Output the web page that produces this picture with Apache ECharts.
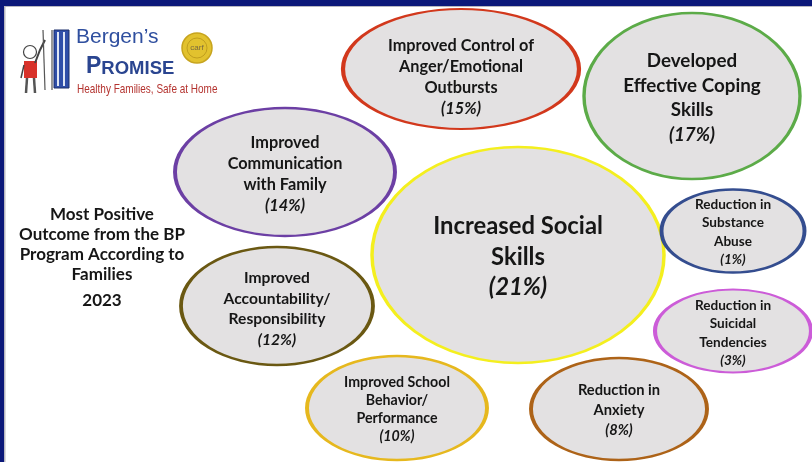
<!DOCTYPE html>
<html>
<head>
<meta charset="utf-8">
<script src="https://cdn.jsdelivr.net/npm/echarts@6/dist/echarts.min.js"></script>
<style>
  html, body { margin: 0; padding: 0; background: #fff; }
  #chart { width: 812px; height: 462px; }
</style>
</head>
<body>
<div id="chart"></div>
<script>
  // outcomes and their share of families (%)
  var outcomes = [
    'Improved Control of\nAnger/Emotional\nOutbursts',
    'Developed\nEffective Coping\nSkills',
    'Improved\nCommunication\nwith Family',
    'Increased Social\nSkills',
    'Reduction in\nSubstance\nAbuse',
    'Reduction in\nSuicidal\nTendencies',
    'Improved\nAccountability/\nResponsibility',
    'Improved School\nBehavior/\nPerformance',
    'Reduction in\nAnxiety'
  ];
  var shares = [15, 17, 14, 21, 1, 3, 12, 10, 8];
  // bubble layout (x, y on the slide)
  var posX = [461, 692, 285, 518, 733, 733, 277, 397, 619];
  var posY = [69, 96, 172, 255, 231, 331, 306, 408, 409];

  // styles
  var sizeW = [236, 216, 220, 292, 143, 156, 192, 180, 176];
  var sizeH = [120, 166, 128, 216, 83, 83, 118, 104, 102];
  var rims = ['#d2381c', '#5cab48', '#6c3fa4', '#f4ef1e', '#344d8f', '#cc5cd8', '#6a5812', '#e6b81e', '#ad6318'];
  var fonts = [16.3, 18.8, 16.3, 23.8, 13.6, 13.6, 15.6, 14.2, 14.7];
  var lineH = [21, 24.5, 21, 30.5, 18.5, 18.5, 20.5, 18, 20];
  var dy = [8, 2, 2, 2, 1, 2, 3, 1, 1];

  var myChart = echarts.init(document.getElementById('chart'));
  var face = 'Lato, "Open Sans", sans-serif';
  var ink = '#161616';

  var data = outcomes.map(function (name, i) {
    var fs = fonts[i];
    return {
      value: [posX[i], posY[i]],
      symbolSize: [sizeW[i], sizeH[i]],
      itemStyle: { color: '#e3e1e2', borderColor: rims[i], borderWidth: 3, opacity: 1 },
      label: {
        show: true,
        position: 'inside',
        offset: [0, dy[i]],
        align: 'center',
        color: ink,
        textBorderWidth: 0,
        formatter: name.split('\n').map(function (l) { return '{t|' + l + '}'; }).join('\n') +
          '\n{p|(' + shares[i] + '%)}',
        rich: {
          t: { fontSize: fs, lineHeight: lineH[i], fontWeight: 'bold', color: ink, fontFamily: face, align: 'center', textBorderWidth: 0 },
          p: { fontSize: fs, lineHeight: lineH[i], fontWeight: 'bold', fontStyle: 'italic', color: ink, fontFamily: face, align: 'center', textBorderWidth: 0 }
        }
      }
    };
  });

  var option = {
    backgroundColor: '#ffffff',
    animation: false,
    grid: { left: 0, right: 0, top: 0, bottom: 0 },
    xAxis: { type: 'value', min: 0, max: 812, show: false },
    yAxis: { type: 'value', min: 0, max: 462, inverse: true, show: false },
    series: [{
      type: 'scatter',
      symbol: 'circle',
      itemStyle: { opacity: 1 },
      emphasis: { disabled: true },
      data: data,
      z: 5
    }],
    graphic: [
      // slide frame
      { type: 'rect', shape: { x: 0, y: 0, width: 812, height: 6 }, style: { fill: '#0b1879' }, z: 10 },
      { type: 'rect', shape: { x: 0, y: 0, width: 4, height: 462 }, style: { fill: '#0b1879' }, z: 10 },
      { type: 'rect', shape: { x: 4, y: 6, width: 808, height: 1 }, style: { fill: '#b8b8c0' }, z: 10 },
      { type: 'rect', shape: { x: 4, y: 6, width: 1.5, height: 456 }, style: { fill: '#b8b8c0' }, z: 10 },

      // title
      {
        type: 'text', x: 102, y: 205, z: 10,
        style: {
          text: 'Most Positive\nOutcome from the BP\nProgram According to\nFamilies',
          align: 'center', verticalAlign: 'top',
          font: 'bold 17px ' + face, fill: ink, lineHeight: 20
        }
      },
      {
        type: 'text', x: 102, y: 292, z: 10,
        style: { text: '2023', align: 'center', verticalAlign: 'top', font: 'bold 17px ' + face, fill: ink }
      },

      // logo: child holding a parent's hand
      {
        type: 'group', x: 18, y: 28, z: 10,
        children: [
          { type: 'circle', shape: { cx: 12, cy: 24, r: 6.5 }, style: { fill: '#fff', stroke: '#444', lineWidth: 1.2 } },
          { type: 'rect', shape: { x: 6, y: 33, width: 13, height: 17 }, style: { fill: '#d8322a' } },
          { type: 'polyline', shape: { points: [[17, 35], [22, 22], [27, 12]] }, style: { stroke: '#444', lineWidth: 2, fill: null } },
          { type: 'polyline', shape: { points: [[6, 37], [3, 50]] }, style: { stroke: '#444', lineWidth: 1.5, fill: null } },
          { type: 'polyline', shape: { points: [[9, 50], [8, 65]] }, style: { stroke: '#555', lineWidth: 2.5, fill: null } },
          { type: 'polyline', shape: { points: [[16, 50], [17, 65]] }, style: { stroke: '#555', lineWidth: 2.5, fill: null } },
          { type: 'polyline', shape: { points: [[25, 2], [27, 62]] }, style: { stroke: '#555', lineWidth: 1.2, fill: null } },
          { type: 'polyline', shape: { points: [[34, 2], [34, 62]] }, style: { stroke: '#555', lineWidth: 1.2, fill: null } },
          { type: 'rect', shape: { x: 36, y: 2, width: 15, height: 58 }, style: { fill: '#2f4ea8', stroke: '#1d2e6a', lineWidth: 1 } },
          { type: 'rect', shape: { x: 39, y: 4, width: 2, height: 54 }, style: { fill: '#dfe6f4' } },
          { type: 'rect', shape: { x: 45, y: 4, width: 2, height: 54 }, style: { fill: '#dfe6f4' } }
        ]
      },
      {
        type: 'text', x: 76, y: 27, z: 10,
        style: { text: 'Bergen\u2019s', font: '21px "Liberation Sans", Arial, sans-serif', fill: '#2f4f9f' }
      },
      {
        type: 'text', x: 86, y: 55, z: 10,
        style: { text: '{b|P}{s|ROMISE}', fill: '#2a4590',
          rich: {
            b: { font: 'bold 23px "Liberation Sans", Arial, sans-serif', fill: '#2a4590', verticalAlign: 'bottom' },
            s: { font: 'bold 18.5px "Liberation Sans", Arial, sans-serif', fill: '#2a4590', verticalAlign: 'bottom' }
          } }
      },
      {
        type: 'text', x: 77, y: 82, scaleX: 0.74, z: 10,
        style: { text: 'Healthy Families, Safe at Home', font: '13.5px "Liberation Sans", Arial, sans-serif', fill: '#b4332f' }
      },
      { type: 'circle', shape: { cx: 197, cy: 48, r: 15 }, style: { fill: '#e2c22e', stroke: '#c7a41e', lineWidth: 1.5 }, z: 10 },
      { type: 'circle', shape: { cx: 197, cy: 48, r: 10 }, style: { fill: 'none', stroke: '#b8961a', lineWidth: 0.8 }, z: 10 },
      {
        type: 'text', x: 197, y: 48, z: 11,
        style: { text: 'carf', font: '8px sans-serif', fill: '#7a6a40', align: 'center', verticalAlign: 'middle' }
      }
    ]
  };

  if (option && typeof option === 'object') {
    myChart.setOption(option, true);
  }
</script>
</body>
</html>
